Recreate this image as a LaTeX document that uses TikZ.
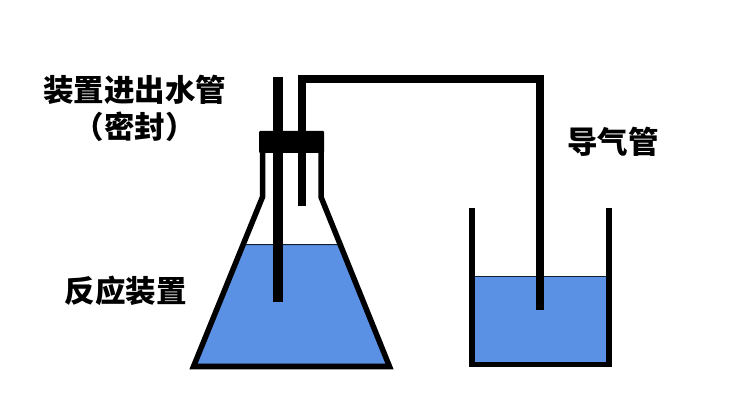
\documentclass[tikz,border=0pt]{standalone}
\usepackage{fontspec}
\newfontfamily\cjk{Noto Sans CJK SC}
\definecolor{water}{HTML}{5B91E4}
\tikzset{
  lbl/.style={font=\cjk\bfseries\fontsize{30.5}{37}\selectfont,align=center,text=black,inner sep=0pt},
  glass/.style={draw=black,line width=5.5pt,line join=miter},
  tube/.style={draw=black,line cap=butt,line join=miter},
  surface/.style={fill=water,draw=black!80!water,line width=1pt}
}
\begin{document}
\begin{tikzpicture}[x=1pt,y=-1pt]
\useasboundingbox[fill=white] (0,0) rectangle (736,414);
% flask water
\path[surface] (243,244.5) -- (340,244.5) -- (387,364) -- (196,364) -- cycle;
% flask wall
\draw[glass] (262.5,140) -- (262.5,197) -- (193.5,366.5) -- (389.5,366.5) -- (321,197) -- (321,140);
% beaker water
\path[surface] (472,276.5) rectangle (609,364);
\draw[glass] (472,208) -- (472,364.5) -- (609,364.5) -- (609,208);
% tubes
\draw[tube,line width=9.5pt] (278,77) -- (278,302);
\draw[tube,line width=8pt] (302,206) -- (302,79) -- (540,79) -- (540,310);
% stopper
\fill[black,rounded corners=1pt] (259,131) rectangle (324,153);
% labels
\node[lbl] (inlet) at (134.5,108) {装置进出水管\\（密封）};
\node[lbl] (reactor) at (125.5,291) {反应装置};
\node[lbl] (gas) at (613,142) {导气管};
\end{tikzpicture}
\end{document}
